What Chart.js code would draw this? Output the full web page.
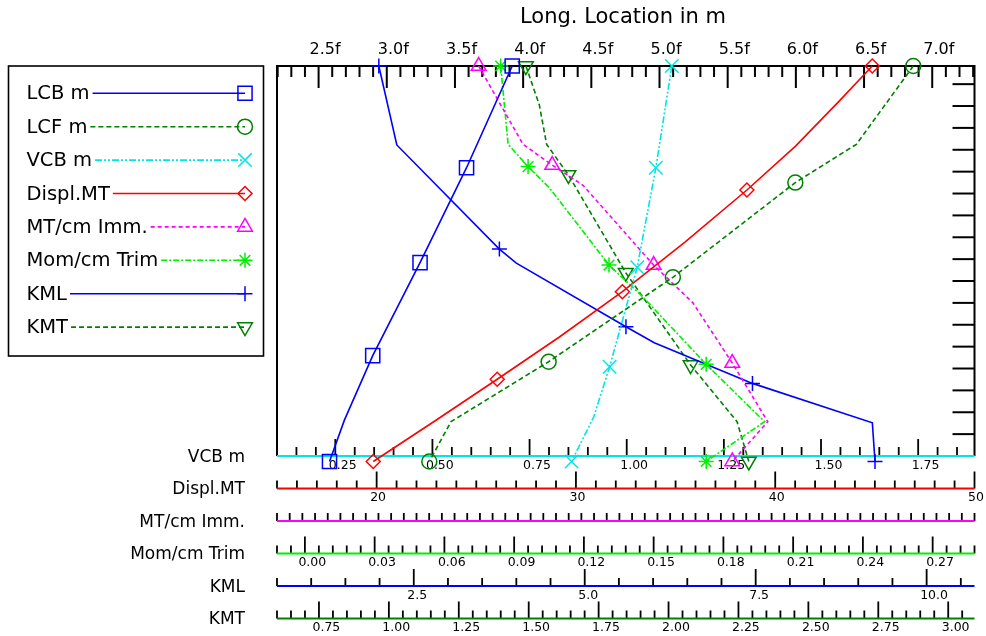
<!DOCTYPE html>
<html>
<head>
<meta charset="utf-8">
<script src="https://cdn.jsdelivr.net/npm/chart.js@4.4.1/dist/chart.umd.min.js"></script>
<style>
  html, body { margin: 0; padding: 0; background: #fff; }
  #wrap { width: 986px; height: 636px; }
</style>
</head>
<body>
<div id="wrap"><canvas id="hydro" width="986" height="636"></canvas></div>
<script>
// drafts (m, vertical) and values; marks = points that carry a symbol
const lcbDraft = [1.983, 1.518, 1.084, 0.659, 0.365, 0.175];
const lcbVal   = [3.920, 3.585, 3.244, 2.897, 2.690, 2.580];
const lcbMarks = [0, 1, 2, 3, 5];

const lcfDraft = [1.983, 1.625, 1.450, 1.017, 0.631, 0.357, 0.175];
const lcfVal   = [6.861, 6.444, 5.996, 5.098, 4.187, 3.471, 3.312];
const lcfMarks = [0, 2, 3, 4, 6];

const vcbDraft = [1.983, 1.518, 1.063, 0.608, 0.378, 0.175];
const vcbVal   = [1.116, 1.075, 1.027, 0.956, 0.915, 0.858];
const vcbMarks = [0, 1, 2, 3, 5];

const displDraft = [1.983, 1.828, 1.617, 1.416, 1.178, 0.951, 0.744, 0.551, 0.360, 0.175];
const displVal   = [44.87, 43.27, 41.02, 38.58, 35.47, 32.33, 29.17, 26.05, 22.92, 19.83];
const displMarks = [0, 3, 5, 7, 9];

const mtDraft = [1.983, 1.625, 1.530, 1.439, 1.073, 0.900, 0.625, 0.357, 0.175];
const mtVal   = [0.359, 0.394, 0.417, 0.441, 0.497, 0.528, 0.559, 0.587, 0.559];
const mtMarks = [0, 2, 4, 6, 8];

const momDraft = [1.983, 1.625, 1.523, 1.424, 1.073, 0.928, 0.619, 0.357, 0.175];
const momVal   = [0.0842, 0.0874, 0.0960, 0.1053, 0.1308, 0.1453, 0.1726, 0.1977, 0.1726];
const momMarks = [0, 2, 4, 6, 8];

const kmlDraft = [1.983, 1.622, 1.146, 1.082, 0.791, 0.718, 0.532, 0.352, 0.175];
const kmlVal   = [1.989, 2.252, 3.752, 4.000, 5.603, 6.017, 7.453, 9.206, 9.245];
const kmlMarks = [0, 2, 4, 6, 8];

const kmtDraft = [1.983, 1.805, 1.625, 1.485, 1.038, 0.616, 0.357, 0.175];
const kmtVal   = [1.490, 1.538, 1.564, 1.642, 1.847, 2.079, 2.245, 2.287];
const kmtMarks = [0, 3, 4, 5, 7];

// axis ranges and tick labels
const draftRange = [0.2, 1.983];
const longRange  = [2.195, 7.31];
const vcbRange   = [0.1, 1.895];
const displRange = [15, 50];
const mtRange    = [0.2, 0.75];
const momRange   = [-0.012, 0.288];
const kmlRange   = [0.5, 10.7];
const kmtRange   = [0.6, 3.094];

const longLabels  = [2.5, 3.0, 3.5, 4.0, 4.5, 5.0, 5.5, 6.0, 6.5, 7.0];
const vcbLabels   = [0.25, 0.50, 0.75, 1.00, 1.25, 1.50, 1.75];
const displLabels = [20, 30, 40, 50];
const mtLabels    = [];
const momLabels   = [0.00, 0.03, 0.06, 0.09, 0.12, 0.15, 0.18, 0.21, 0.24, 0.27];
const kmlLabels   = [2.5, 5.0, 7.5, 10.0];
const kmtLabels   = [0.75, 1.00, 1.25, 1.50, 1.75, 2.00, 2.25, 2.50, 2.75, 3.00];

const BLUE = '#0000ff', DKGREEN = '#008000', CYAN = '#00e6e6', RED = '#ff0000',
      MAGENTA = '#ff00ff', LIME = '#00f000';
const FONT = '"DejaVu Sans", sans-serif';

function series(label, vals, drafts, marks, axis, color, dash, style, radius, rot) {
    return {
        label: label,
        data: vals.map((v, i) => ({ x: v, y: drafts[i] })),
        xAxisID: axis,
        yAxisID: 'y',
        showLine: true,
        tension: 0,
        fill: false,
        clip: false,
        borderColor: color,
        borderWidth: 1.6,
        borderDash: dash,
        pointStyle: style,
        pointRotation: rot || 0,
        pointRadius: c => marks.includes(c.dataIndex) ? radius : 0,
        pointHoverRadius: 0,
        pointBorderColor: color,
        pointBackgroundColor: 'rgba(0,0,0,0)',
        pointBorderWidth: 1.5
    };
}

const datasets = [
    series('LCB m', lcbVal, lcbDraft, lcbMarks, 'xLong', BLUE, [], 'rect', 10),
    series('LCF m', lcfVal, lcfDraft, lcfMarks, 'xLong', DKGREEN, [5, 3], 'circle', 7.5),
    series('VCB m', vcbVal, vcbDraft, vcbMarks, 'xVcb', CYAN, [7, 2, 2, 2, 2, 2], 'crossRot', 9.5),
    series('Displ.MT', displVal, displDraft, displMarks, 'xDispl', RED, [], 'rectRot', 7),
    series('MT/cm Imm.', mtVal, mtDraft, mtMarks, 'xMt', MAGENTA, [4, 3], 'triangle', 8.5),
    series('Mom/cm Trim', momVal, momDraft, momMarks, 'xMom', LIME, [6, 2, 2, 2], 'star', 7.5),
    series('KML', kmlVal, kmlDraft, kmlMarks, 'xKml', BLUE, [], 'cross', 7.5),
    series('KMT', kmtVal, kmtDraft, kmtMarks, 'xKmt', DKGREEN, [5, 3], 'triangle', 8.5, 180)
];

function hiddenX(range) {
    return { type: 'linear', axis: 'x', display: false, min: range[0], max: range[1] };
}

// bottom rows: scale id, name, baseline y, colour, minor step, labels, decimals
const bottomRows = [
    { id: 'xVcb',   name: 'VCB m',       y: 456,   color: CYAN,    step: 0.05,  labels: vcbLabels,   dec: 2, minor: 9, major: 17 },
    { id: 'xDispl', name: 'Displ.MT',    y: 488.5, color: RED,     step: 1,     labels: displLabels, dec: 0, minor: 8, major: 17 },
    { id: 'xMt',    name: 'MT/cm Imm.',  y: 521,   color: MAGENTA, step: 0.01,  labels: mtLabels,    dec: 2, minor: 8, major: 17 },
    { id: 'xMom',   name: 'Mom/cm Trim', y: 553.5, color: LIME,    step: 0.006, labels: momLabels,   dec: 2, minor: 8, major: 17 },
    { id: 'xKml',   name: 'KML',         y: 586,   color: BLUE,    step: 0.5,   labels: kmlLabels,   dec: 1, minor: 8, major: 17 },
    { id: 'xKmt',   name: 'KMT',         y: 618.5, color: DKGREEN, step: 0.05,  labels: kmtLabels,   dec: 2, minor: 8, major: 17 }
];

function stepValues(scale, step) {
    const out = [];
    const lo = Math.ceil(scale.min / step - 1e-6), hi = Math.floor(scale.max / step + 1e-6);
    for (let k = lo; k <= hi; k++) out.push(k * step);
    return out;
}

function isLabel(v, labels, step) {
    return labels.some(m => Math.abs(m - v) < step / 10);
}

const hydroFrame = {
    id: 'hydroFrame',
    beforeDatasetsDraw(chart) {
        const { ctx, chartArea: a, scales } = chart;
        ctx.save();
        ctx.strokeStyle = '#000';
        ctx.fillStyle = '#000';

        // frame
        ctx.lineWidth = 2;
        ctx.beginPath();
        ctx.moveTo(a.left, a.bottom);
        ctx.lineTo(a.left, a.top);
        ctx.lineTo(a.right, a.top);
        ctx.lineTo(a.right, a.bottom);
        ctx.stroke();

        // top axis, ticks hang into the plot
        const top = scales.xLong;
        ctx.font = '16px ' + FONT;
        ctx.textAlign = 'left';
        ctx.textBaseline = 'alphabetic';
        stepValues(top, 0.1).forEach(v => {
            const x = top.getPixelForValue(v);
            const big = isLabel(v, longLabels, 0.1);
            ctx.beginPath();
            ctx.moveTo(x, a.top);
            ctx.lineTo(x, a.top + (big ? 22 : 11));
            ctx.stroke();
            if (big) ctx.fillText(v.toFixed(1) + 'f', x - 9, 54);
        });

        ctx.font = '21px ' + FONT;
        ctx.fillText('Long. Location in m', 520, 23);

        // draft ticks on the right
        const y = scales.y;
        stepValues(y, 0.1).forEach(v => {
            const py = y.getPixelForValue(v);
            if (py >= a.bottom - 1 || py <= a.top + 1) return;
            ctx.beginPath();
            ctx.moveTo(a.right - 22, py);
            ctx.lineTo(a.right, py);
            ctx.stroke();
        });

        // bottom axes
        bottomRows.forEach(row => {
            const s = scales[row.id];
            ctx.strokeStyle = '#000';
            ctx.lineWidth = 1.8;
            ctx.font = '12.5px ' + FONT;
            ctx.textAlign = 'left';
            stepValues(s, row.step).forEach(v => {
                const x = s.getPixelForValue(v);
                const big = isLabel(v, row.labels, row.step);
                ctx.beginPath();
                ctx.moveTo(x, row.y);
                ctx.lineTo(x, row.y - (big ? row.major : row.minor));
                ctx.stroke();
                if (big) ctx.fillText(v.toFixed(row.dec), x - 6.5, row.y + 12.5);
            });
            ctx.strokeStyle = row.color;
            ctx.lineWidth = 2;
            ctx.beginPath();
            ctx.moveTo(a.left, row.y);
            ctx.lineTo(a.right, row.y);
            ctx.stroke();
            ctx.font = '17px ' + FONT;
            ctx.textAlign = 'right';
            ctx.fillText(row.name, 245, row.y + 5.5);
        });

        // legend box
        ctx.strokeStyle = '#000';
        ctx.lineWidth = 1.6;
        ctx.strokeRect(8.5, 66, 255, 290);
        ctx.font = '19.5px ' + FONT;
        ctx.textAlign = 'left';
        chart.data.datasets.forEach((ds, i) => {
            const base = 99.3 + 33.4 * i;
            const ly = base - 6;
            ctx.fillStyle = '#000';
            ctx.fillText(ds.label, 26.5, base);
            const x0 = 26.5 + ctx.measureText(ds.label).width + 3;
            ctx.strokeStyle = ds.borderColor;
            ctx.lineWidth = ds.borderWidth;
            ctx.setLineDash(ds.borderDash);
            ctx.beginPath();
            ctx.moveTo(x0, ly);
            ctx.lineTo(245, ly);
            ctx.stroke();
            ctx.setLineDash([]);
            ctx.lineWidth = ds.pointBorderWidth;
            ctx.fillStyle = 'rgba(0,0,0,0)';
            const r = ds.pointRadius({ dataIndex: 0 });
            if (Chart.helpers && Chart.helpers.drawPoint) {
                Chart.helpers.drawPoint(ctx, {
                    pointStyle: ds.pointStyle, rotation: ds.pointRotation,
                    radius: r, borderWidth: ds.pointBorderWidth
                }, 245, ly);
            }
        });
        ctx.restore();
    }
};

const chart = new Chart(
    document.getElementById('hydro'),
    {
        type: 'scatter',
        data: { datasets: datasets },
        options: {
            responsive: false,
            devicePixelRatio: 1,
            animation: false,
            layout: { padding: { left: 277, right: 10, top: 66, bottom: 180 } },
            plugins: {
                legend: { display: false },
                tooltip: { enabled: false },
                title: { display: false }
            },
            events: [],
            scales: {
                xLong: hiddenX(longRange),
                xVcb: hiddenX(vcbRange),
                xDispl: hiddenX(displRange),
                xMt: hiddenX(mtRange),
                xMom: hiddenX(momRange),
                xKml: hiddenX(kmlRange),
                xKmt: hiddenX(kmtRange),
                y: { type: 'linear', axis: 'y', display: false, min: draftRange[0], max: draftRange[1] }
            }
        },
        plugins: [hydroFrame]
    }
);
</script>
</body>
</html>
